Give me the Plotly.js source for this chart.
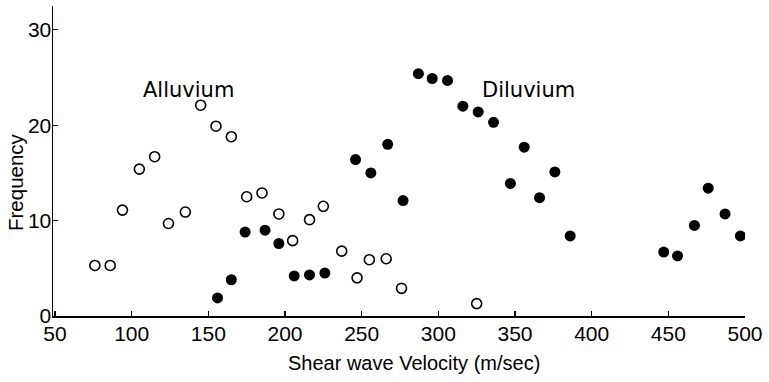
<!DOCTYPE html>
<html>
<head>
<meta charset="utf-8">
<script src="https://cdn.plot.ly/plotly-3.0.1.min.js"></script>
<style>html,body{margin:0;padding:0;background:#fff}#chart{width:769px;height:382px}</style>
</head>
<body>
<div id="chart"></div>
<script>
// Alluvium (open circles)
const alluviumVelocity = [76, 86, 94, 105, 115, 124, 135, 145, 155, 165, 175, 185, 196, 205, 216, 225, 237, 247, 255, 266, 276, 325];
const alluviumFrequency = [5.3, 5.3, 11.1, 15.4, 16.7, 9.7, 10.9, 22.1, 19.9, 18.8, 12.5, 12.9, 10.7, 7.9, 10.1, 11.5, 6.8, 4.0, 5.9, 6.0, 2.9, 1.3];
// Diluvium (filled circles)
const diluviumVelocity = [156, 165, 174, 187, 196, 206, 216, 226, 246, 256, 267, 277, 287, 296, 306, 316, 326, 336, 347, 356, 366, 376, 386, 447, 456, 467, 476, 487, 497];
const diluviumFrequency = [1.9, 3.8, 8.8, 9.0, 7.6, 4.2, 4.3, 4.5, 16.4, 15.0, 18.0, 12.1, 25.4, 24.9, 24.7, 22.0, 21.4, 20.3, 13.9, 17.7, 12.4, 15.1, 8.4, 6.7, 6.3, 9.5, 13.4, 10.7, 8.4];
const xTicks = [50, 100, 150, 200, 250, 300, 350, 400, 450, 500];
const yTicks = [0, 10, 20, 30];

const font = "Liberation Sans, Arial, sans-serif";
const wide = "DejaVu Sans, sans-serif";

const W = 769, H = 382, M = {l: 53, r: 24, t: 6, b: 66};
const px2paperX = p => (p - M.l) / (W - M.l - M.r);
const px2paperY = p => (H - M.b - p) / (H - M.t - M.b);

const traces = [
  {x: alluviumVelocity, y: alluviumFrequency, mode: 'markers', type: 'scatter', name: 'Alluvium',
   marker: {symbol: 'circle-open', size: 10, color: '#000', line: {width: 1.6, color: '#000'}}},
  {x: diluviumVelocity, y: diluviumFrequency, mode: 'markers', type: 'scatter', name: 'Diluvium',
   marker: {symbol: 'circle', size: 11, color: '#000'}}
];

const layout = {
  width: W, height: H,
  margin: M,
  paper_bgcolor: '#fff', plot_bgcolor: '#fff',
  showlegend: false,
  font: {family: font, color: '#000'},
  xaxis: {
    range: [48.7, 500], tickvals: xTicks, ticktext: xTicks.map(String),
    showgrid: false, zeroline: false, showline: true, linecolor: '#000', linewidth: 1.5,
    ticks: 'inside', ticklen: 5, tickcolor: '#000', tickwidth: 1.2,
    tickfont: {size: 21, family: font}, ticklabelstandoff: -2
  },
  yaxis: {
    range: [0, 32.5], tickvals: yTicks, ticktext: yTicks.map(String),
    showgrid: false, zeroline: false, showline: true, linecolor: '#000', linewidth: 1.5,
    ticks: 'inside', ticklen: 5, tickcolor: '#000', tickwidth: 1.2,
    tickfont: {size: 21, family: font}, ticklabelstandoff: -4
  },
  annotations: [
    {x: 136.8, y: 23.7, xref: 'x', yref: 'y', text: 'Alluvium', showarrow: false, font: {size: 21, family: wide}},
    {x: 358.5, y: 23.7, xref: 'x', yref: 'y', text: 'Diluvium', showarrow: false, font: {size: 21, family: wide}},
    {x: px2paperX(15), y: px2paperY(182), xref: 'paper', yref: 'paper', xanchor: 'center', yanchor: 'middle',
     text: 'Frequency', showarrow: false, textangle: -90, font: {size: 20.5, family: font}},
    {x: px2paperX(414), y: px2paperY(363), xref: 'paper', yref: 'paper', xanchor: 'center', yanchor: 'middle',
     text: 'Shear wave Velocity (m/sec)', showarrow: false, font: {size: 20, family: font}}
  ]
};

Plotly.newPlot('chart', traces, layout, {displayModeBar: false, staticPlot: true});
</script>
</body>
</html>
